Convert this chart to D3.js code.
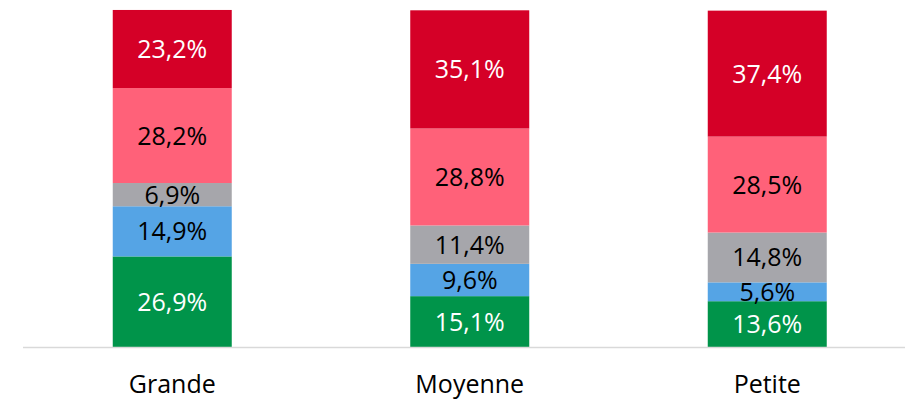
<!DOCTYPE html>
<html>
<head>
<meta charset="utf-8">
<script src="https://cdn.jsdelivr.net/npm/d3@7"></script>
<style>
body { margin: 0; background: #fff; }
svg { display: block; font-family: "Open Sans", "Liberation Sans", sans-serif; }
</style>
</head>
<body>
<svg width="905" height="401"></svg>
<script>
var categories = ["Grande", "Moyenne", "Petite"];
var seriesNames = ["s1", "s2", "s3", "s4", "s5"];
var s1 = [26.9, 15.1, 13.6];
var s2 = [14.9, 9.6, 5.6];
var s3 = [6.9, 11.4, 14.8];
var s4 = [28.2, 28.8, 28.5];
var s5 = [23.2, 35.1, 37.4];
var colors = ["#00944a", "#55a4e5", "#a6a6ab", "#ff6179", "#d50027"];
var textColors = ["#fff", "#000", "#000", "#000", "#fff"];

var values = [s1, s2, s3, s4, s5];
var data = categories.map(function(c, i) {
  var row = {cat: c};
  seriesNames.forEach(function(s, j) { row[s] = values[j][i]; });
  return row;
});

var svg = d3.select("svg");

var x = d3.scaleBand().domain(categories).range([23.5, 916]).paddingInner(0.6).paddingOuter(0.3),
    y = d3.scaleLinear().domain([0, 100]).range([347, 10.3]);

var stack = d3.stack().keys(seriesNames)(data);

var layer = svg.selectAll(".layer")
  .data(stack)
  .enter().append("g")
    .attr("class", "layer")
    .attr("fill", function(d, i) { return colors[i]; });

layer.selectAll("rect")
  .data(function(d) { return d; })
  .enter().append("rect")
    .attr("x", function(d) { return x(d.data.cat); })
    .attr("y", function(d) { return y(d[1]); })
    .attr("width", x.bandwidth())
    .attr("height", function(d) { return y(d[0]) - y(d[1]); });

layer.selectAll("text")
  .data(function(d, i) { return d.map(function(p) { return {p: p, i: i}; }); })
  .enter().append("text")
    .attr("x", function(d) { return x(d.p.data.cat) + x.bandwidth() / 2; })
    .attr("y", function(d) { return (y(d.p[0]) + y(d.p[1])) / 2; })
    .attr("dy", "0.36em")
    .attr("text-anchor", "middle")
    .attr("fill", function(d) { return textColors[d.i]; })
    .style("font-size", "25px")
    .text(function(d) { return d3.format(".1f")(d.p[1] - d.p[0]).replace(".", ",") + "%"; });

// baseline
svg.append("line")
  .attr("x1", 23).attr("x2", 905)
  .attr("y1", 347.5).attr("y2", 347.5)
  .attr("stroke", "#d9d9d9")
  .attr("stroke-width", 1.5);

var xAxis = svg.append("g")
  .attr("transform", "translate(0,347)")
  .call(d3.axisBottom(x).tickSize(0).tickPadding(28));
xAxis.select(".domain").remove();
xAxis.selectAll("text")
  .attr("fill", "#000")
  .style("font-size", "25px")
  .style("font-family", "'Open Sans', 'Liberation Sans', sans-serif");
</script>
</body>
</html>
